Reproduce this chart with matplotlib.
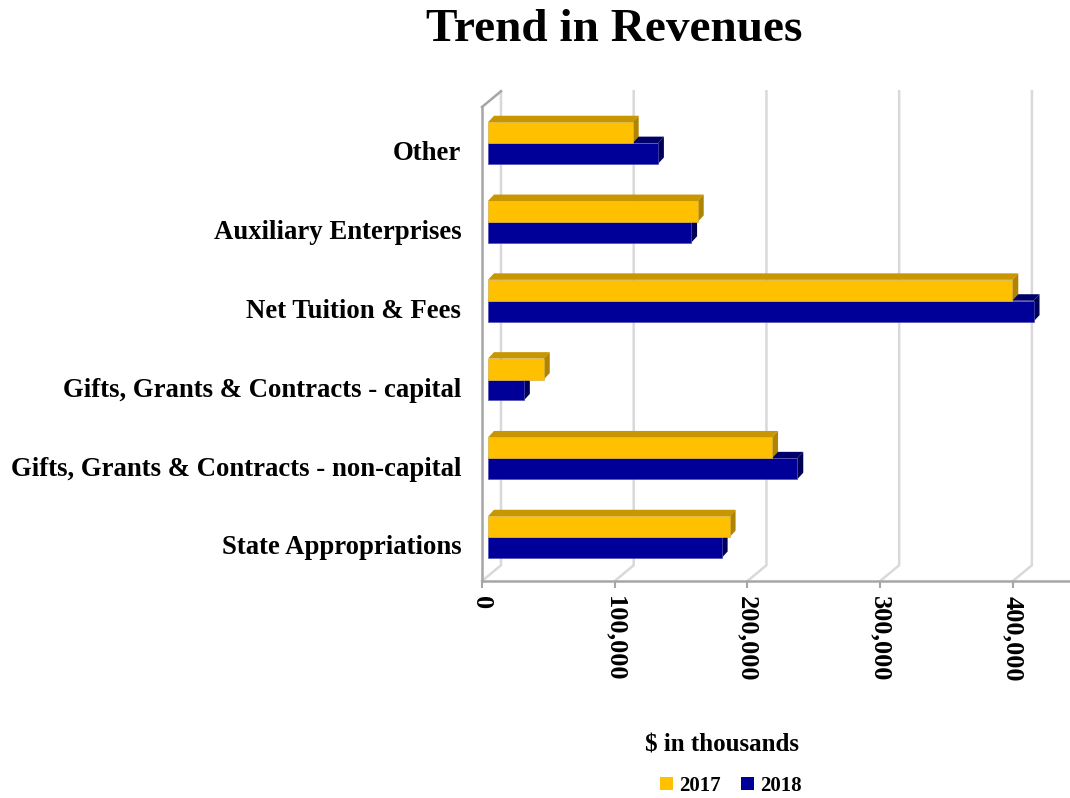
import matplotlib
matplotlib.use("Agg")
import matplotlib.pyplot as plt
from matplotlib.patches import Patch, Polygon

plt.rcParams['font.family'] = ['Liberation Serif', 'DejaVu Serif']
plt.rcParams['font.weight'] = 'bold'

# data ($ in thousands), bottom row first
categories = ['State Appropriations',
              'Gifts, Grants & Contracts - non-capital',
              'Gifts, Grants & Contracts - capital',
              'Net Tuition & Fees',
              'Auxiliary Enterprises',
              'Other']
rev_2017 = [182000, 214000, 42000, 395000, 158000, 109000]
rev_2018 = [176000, 233000, 27000, 411000, 153000, 128000]
xticks = [0, 100000, 200000, 300000, 400000]
xtick_labels = ['0', '100,000', '200,000', '300,000', '400,000']

# colours
yel_front, yel_top, yel_side = '#ffc000', '#c89600', '#b08400'
blu_front, blu_top, blu_side = '#000099', '#00006a', '#000055'
grid_col = '#d9d9d9'
axis_col = '#a6a6a6'

XMAX = 443000
YLO, YHI = -0.457, 5.558
# depth offsets in data units (walls, bar position, bar depth)
WALL_DX, WALL_DY = 14300, 0.2
BX, OY = 4520, 0.1
BDX, BDY = 4520, 0.082
H = 0.265

fig = plt.figure(figsize=(10.7, 7.98), dpi=100)
ax = fig.add_axes([482/1070, 1 - 581/798, (1070-482)/1070, 474/798])
ax.set_xlim(0, XMAX)
ax.set_ylim(YLO, YHI)

# back wall gridlines + floor diagonals
for v in xticks:
    ax.plot([v, v + WALL_DX, v + WALL_DX], [YLO, YLO + WALL_DY, YHI + WALL_DY],
            color=grid_col, lw=1.8, zorder=1, clip_on=False)
# left wall top edge
ax.plot([0, WALL_DX], [YHI, YHI + WALL_DY], color=axis_col, lw=1.8, zorder=1, clip_on=False)


def draw_bar(v, y0, y1, top, side, z):
    top_poly = [(BX, y1), (BX + v, y1), (BX + v + BDX, y1 + BDY), (BX + BDX, y1 + BDY)]
    side_poly = [(BX + v, y0), (BX + v, y1), (BX + v + BDX, y1 + BDY), (BX + v + BDX, y0 + BDY)]
    ax.add_patch(Polygon(top_poly, closed=True, facecolor=top, edgecolor='none', zorder=z))
    ax.add_patch(Polygon(side_poly, closed=True, facecolor=side, edgecolor='none', zorder=z))


for i in range(len(categories)):
    b = i + OY
    # 2018 first (lower bar), 2017 drawn over it
    draw_bar(rev_2018[i], b - H, b, blu_top, blu_side, 2)
    ax.barh(b - H / 2, rev_2018[i], height=H, left=BX, color=blu_front,
            edgecolor='#5050b8', linewidth=0.5, zorder=3)
    draw_bar(rev_2017[i], b, b + H, yel_top, yel_side, 4)
    ax.barh(b + H / 2, rev_2017[i], height=H, left=BX, color=yel_front,
            edgecolor='#d8b040', linewidth=0.5, zorder=5)

# axes styling
for s in ['top', 'right']:
    ax.spines[s].set_visible(False)
for s in ['left', 'bottom']:
    ax.spines[s].set_color(axis_col)
    ax.spines[s].set_linewidth(1.8)

ax.set_xticks(xticks)
ax.set_xticklabels(xtick_labels, rotation=-90, fontsize=19, fontweight='bold')
ax.tick_params(axis='x', length=5, width=1.5, color=axis_col, pad=6)
ax.set_yticks(range(len(categories)))
ax.set_yticklabels(categories, fontsize=19.3, fontweight='bold')
ax.tick_params(axis='y', length=0, pad=15)

fig.text(614/1070, 1 - 30/798, 'Trend in Revenues', fontsize=34, fontweight='bold',
         ha='center', va='center')
fig.text(722/1070, 1 - 745/798, '$ in thousands', fontsize=18, fontweight='bold',
         ha='center', va='center')

handles = [Patch(facecolor=yel_front, edgecolor='none', label='2017'),
           Patch(facecolor=blu_front, edgecolor='none', label='2018')]
fig.legend(handles=handles, loc='center', bbox_to_anchor=(731/1070, 1 - 786/798),
           ncol=2, frameon=False, prop={'family': 'Liberation Serif', 'weight': 'bold', 'size': 15},
           handlelength=0.6, handleheight=0.6, handletextpad=0.3, columnspacing=1.0)

fig.savefig('out.png', dpi=100)
